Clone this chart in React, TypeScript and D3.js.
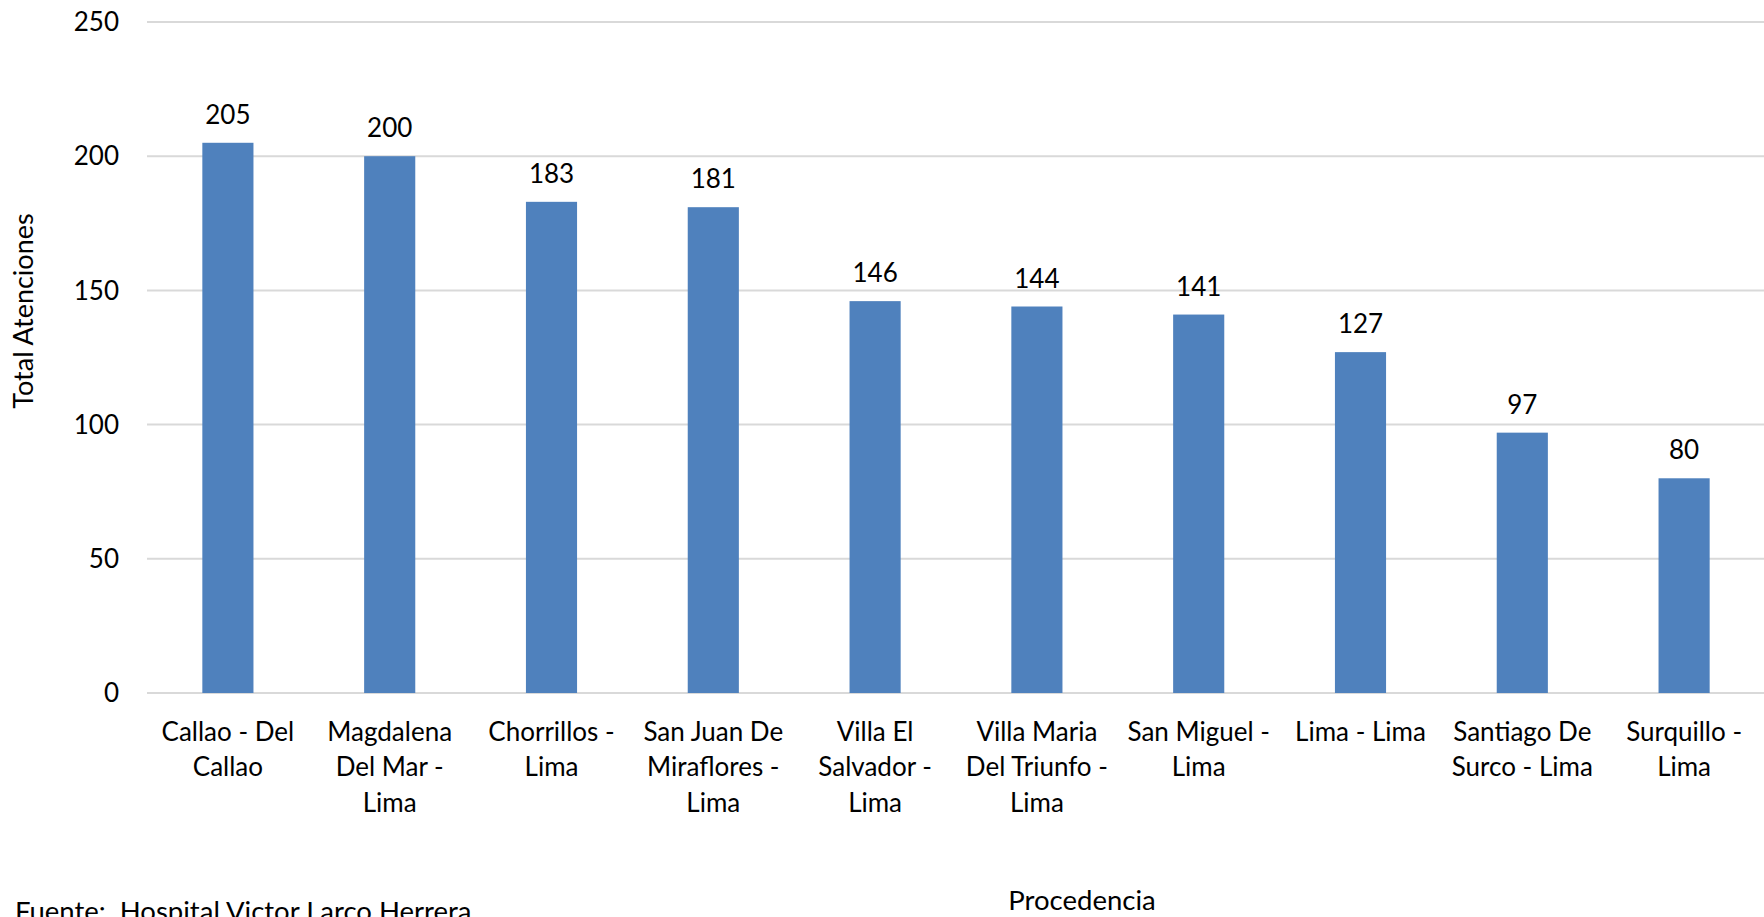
import React from "react";
import * as d3 from "d3";

const categories = [
  "Callao - Del Callao",
  "Magdalena Del Mar - Lima",
  "Chorrillos - Lima",
  "San Juan De Miraflores - Lima",
  "Villa El Salvador - Lima",
  "Villa Maria Del Triunfo - Lima",
  "San Miguel - Lima",
  "Lima - Lima",
  "Santiago De Surco - Lima",
  "Surquillo - Lima",
];
const categoryLines = [
  ["Callao - Del", "Callao"],
  ["Magdalena", "Del Mar -", "Lima"],
  ["Chorrillos -", "Lima"],
  ["San Juan De", "Miraflores -", "Lima"],
  ["Villa El", "Salvador -", "Lima"],
  ["Villa Maria", "Del Triunfo -", "Lima"],
  ["San Miguel -", "Lima"],
  ["Lima - Lima"],
  ["Santiago De", "Surco - Lima"],
  ["Surquillo -", "Lima"],
];
const values = [205, 200, 183, 181, 146, 144, 141, 127, 97, 80];
const yTicks = [0, 50, 100, 150, 200, 250];
const yTitle = "Total Atenciones";
const xTitle = "Procedencia";
const source = "Fuente:\u00a0 Hospital Victor Larco Herrera";

const W = 1764;
const H = 917;
const FONT = "Lato, 'Open Sans', sans-serif";

export default function App() {
  const x = d3
    .scaleBand<string>()
    .domain(categories)
    .range([147, 1765])
    .paddingInner(0.684)
    .paddingOuter(0.342);
  const y = d3.scaleLinear().domain([0, 250]).range([693, 22]);

  return (
    <svg
      width={W}
      height={H}
      style={{ position: "absolute", left: 0, top: 0, background: "#fff" }}
      fontFamily={FONT}
    >
      <rect x={0} y={0} width={W} height={H} fill="#fff" />
      {yTicks.map((t) => (
        <g key={t}>
          <line x1={147} x2={W} y1={y(t)} y2={y(t)} stroke="#d9d9d9" strokeWidth={2} />
          <text x={119} y={y(t)} dy="0.35em" textAnchor="end" fontSize={26} fill="#000">
            {t}
          </text>
        </g>
      ))}
      {categories.map((c, i) => {
        const bx = x(c)!;
        const cx = bx + x.bandwidth() / 2;
        return (
          <g key={c}>
            <rect
              x={bx}
              y={y(values[i])}
              width={x.bandwidth()}
              height={y(0) - y(values[i])}
              fill="#4f81bd"
            />
            <text x={cx} y={y(values[i]) - 19} textAnchor="middle" fontSize={26} fill="#000">
              {values[i]}
            </text>
            {categoryLines[i].map((ln, j) => (
              <text
                key={j}
                x={cx}
                y={741 + j * 35.4}
                textAnchor="middle"
                fontSize={26}
                fill="#000"
              >
                {ln}
              </text>
            ))}
          </g>
        );
      })}
      <text
        transform={`translate(33,311) rotate(-90)`}
        textAnchor="middle"
        fontSize={27}
        fill="#000"
      >
        {yTitle}
      </text>
      <text x={1082} y={910} textAnchor="middle" fontSize={27.5} fill="#000">
        {xTitle}
      </text>
      <text x={15} y={921} fontSize={27.5} fill="#000">
        {source}
      </text>
    </svg>
  );
}
